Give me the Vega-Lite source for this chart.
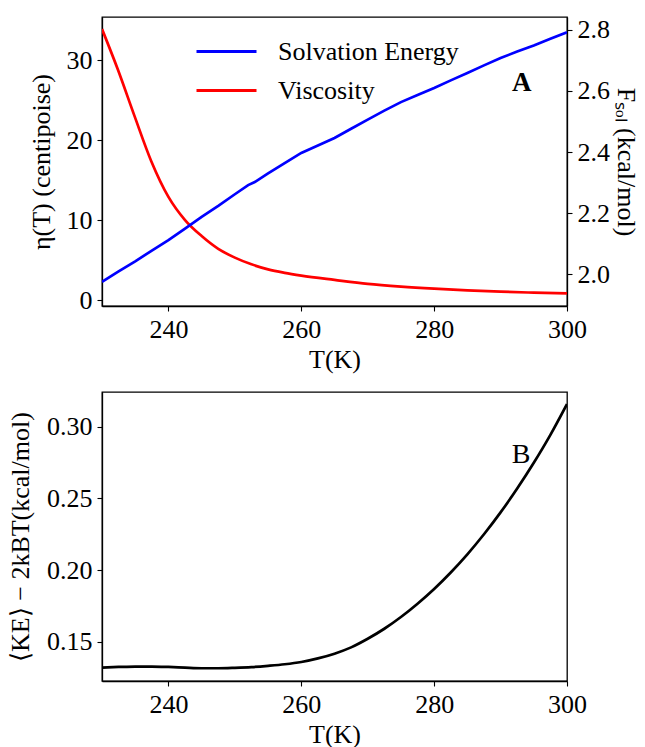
{
  "$schema": "https://vega.github.io/schema/vega-lite/v6.json",
  "background": "white",
  "padding": {"left": 6, "top": 15, "right": 0, "bottom": 0},
  "spacing": 18,
  "datasets": {
    "visc": [
      {"T": 230.0, "eta": 33.9}, {"T": 232.4, "eta": 28.8}, {"T": 234.9, "eta": 23.0},
      {"T": 237.4, "eta": 17.4}, {"T": 240.0, "eta": 12.9}, {"T": 242.5, "eta": 10.0},
      {"T": 245.0, "eta": 8.0}, {"T": 247.5, "eta": 6.4}, {"T": 250.0, "eta": 5.3},
      {"T": 252.5, "eta": 4.46}, {"T": 255.0, "eta": 3.83}, {"T": 257.5, "eta": 3.4},
      {"T": 260.0, "eta": 3.06}, {"T": 265.0, "eta": 2.52}, {"T": 270.0, "eta": 2.02},
      {"T": 275.0, "eta": 1.68}, {"T": 280.0, "eta": 1.42}, {"T": 285.0, "eta": 1.21},
      {"T": 290.0, "eta": 1.04}, {"T": 295.0, "eta": 0.92}, {"T": 300.0, "eta": 0.83}
    ],
    "solv": [
      {"T": 230.0, "F": 1.976}, {"T": 232.5, "F": 2.010}, {"T": 235.0, "F": 2.043},
      {"T": 237.5, "F": 2.078}, {"T": 240.0, "F": 2.112}, {"T": 242.5, "F": 2.150},
      {"T": 245.0, "F": 2.188}, {"T": 247.5, "F": 2.224}, {"T": 250.0, "F": 2.262},
      {"T": 252.0, "F": 2.292}, {"T": 253.0, "F": 2.302}, {"T": 255.0, "F": 2.330},
      {"T": 257.5, "F": 2.364}, {"T": 260.0, "F": 2.397}, {"T": 262.5, "F": 2.421},
      {"T": 265.0, "F": 2.446}, {"T": 267.5, "F": 2.476}, {"T": 270.0, "F": 2.506},
      {"T": 272.5, "F": 2.535}, {"T": 275.0, "F": 2.563}, {"T": 277.5, "F": 2.586},
      {"T": 280.0, "F": 2.609}, {"T": 282.5, "F": 2.634}, {"T": 285.0, "F": 2.658},
      {"T": 287.5, "F": 2.683}, {"T": 290.0, "F": 2.707}, {"T": 292.5, "F": 2.728},
      {"T": 295.0, "F": 2.748}, {"T": 297.5, "F": 2.770}, {"T": 300.0, "F": 2.791}
    ],
    "ke": [
      {"T": 230.0, "v": 0.1319}, {"T": 232.5, "v": 0.1323}, {"T": 235.0, "v": 0.1326},
      {"T": 237.5, "v": 0.1326}, {"T": 240.0, "v": 0.1323}, {"T": 242.5, "v": 0.1318},
      {"T": 245.0, "v": 0.1314}, {"T": 247.5, "v": 0.1314}, {"T": 250.0, "v": 0.1317},
      {"T": 252.5, "v": 0.1322}, {"T": 255.0, "v": 0.1331}, {"T": 257.5, "v": 0.1342},
      {"T": 260.0, "v": 0.1358}, {"T": 262.5, "v": 0.1383}, {"T": 265.0, "v": 0.1416},
      {"T": 267.5, "v": 0.1460}, {"T": 270.0, "v": 0.1520}, {"T": 272.5, "v": 0.1590},
      {"T": 275.0, "v": 0.1672}, {"T": 277.5, "v": 0.1765}, {"T": 280.0, "v": 0.1868},
      {"T": 282.5, "v": 0.1983}, {"T": 285.0, "v": 0.2110}, {"T": 287.5, "v": 0.2250},
      {"T": 290.0, "v": 0.2403}, {"T": 292.5, "v": 0.2570}, {"T": 295.0, "v": 0.2750},
      {"T": 297.5, "v": 0.2945}, {"T": 300.0, "v": 0.3160}
    ],
    "labelA": [{"T": 293.2, "eta": 27.2, "label": "A"}],
    "labelB": [{"T": 293.1, "v": 0.2803, "label": "B"}]
  },
  "vconcat": [
    {
      "width": 465,
      "height": 289,
      "layer": [
        {
          "data": {"name": "visc"},
          "mark": {"type": "line", "strokeWidth": 2.7, "interpolate": "monotone", "clip": true},
          "encoding": {
            "x": {"field": "T", "type": "quantitative", "scale": {"domain": [230, 300], "nice": false, "zero": false},
                  "axis": {"title": "T(K)", "values": [240, 260, 280, 300], "labelFlush": false}},
            "y": {"field": "eta", "type": "quantitative", "scale": {"domain": [-0.75, 35.4], "nice": false, "zero": false},
                  "axis": {"title": "η(T) (centipoise)", "values": [0, 10, 20, 30], "orient": "left", "titlePadding": 12}},
            "color": {"datum": "Viscosity", "type": "nominal",
                      "scale": {"domain": ["Solvation Energy", "Viscosity"], "range": ["#0000ff", "#ff0000"]},
                      "legend": {"orient": "none", "legendX": 108, "legendY": 18, "title": null,
                                 "symbolType": "M-2,0H2", "symbolSize": 900, "symbolStrokeWidth": 3,
                                 "labelFontSize": 26, "labelFont": "Liberation Serif", "labelColor": "black",
                                 "labelLimit": 0, "labelOffset": 35, "rowPadding": 9, "padding": 0}}
          }
        },
        {
          "data": {"name": "solv"},
          "mark": {"type": "line", "strokeWidth": 2.7, "clip": true},
          "encoding": {
            "x": {"field": "T", "type": "quantitative"},
            "y": {"field": "F", "type": "quantitative", "scale": {"domain": [1.897, 2.841], "nice": false, "zero": false},
                  "axis": {"title": "Fₛₒₗ (kcal/mol)", "values": [2.0, 2.2, 2.4, 2.6, 2.8], "format": ".1f", "orient": "right", "titlePadding": 3}},
            "color": {"datum": "Solvation Energy", "type": "nominal"}
          }
        },
        {
          "data": {"name": "labelA"},
          "mark": {"type": "text", "fontSize": 27, "fontWeight": "bold", "font": "Liberation Serif", "color": "black", "align": "center", "baseline": "middle"},
          "encoding": {
            "x": {"field": "T", "type": "quantitative"},
            "y": {"field": "eta", "type": "quantitative", "scale": {"domain": [-0.75, 35.4], "nice": false, "zero": false}, "axis": null},
            "text": {"field": "label"}
          }
        }
      ],
      "resolve": {"scale": {"y": "independent"}, "axis": {"y": "independent"}}
    },
    {
      "width": 465,
      "height": 289,
      "layer": [
        {
          "data": {"name": "ke"},
          "mark": {"type": "line", "strokeWidth": 2.7, "color": "black", "interpolate": "monotone", "clip": true},
          "encoding": {
            "x": {"field": "T", "type": "quantitative", "scale": {"domain": [230, 300], "nice": false, "zero": false},
                  "axis": {"title": "T(K)", "values": [240, 260, 280, 300], "labelFlush": false}},
            "y": {"field": "v", "type": "quantitative", "scale": {"domain": [0.1225, 0.3244], "nice": false, "zero": false},
                  "axis": {"title": "⟨KE⟩ − 2kBT(kcal/mol)", "values": [0.15, 0.2, 0.25, 0.3], "format": ".2f", "titlePadding": 13}}
          }
        },
        {
          "data": {"name": "labelB"},
          "mark": {"type": "text", "fontSize": 28, "font": "Liberation Serif", "color": "black", "align": "center", "baseline": "middle"},
          "encoding": {
            "x": {"field": "T", "type": "quantitative"},
            "y": {"field": "v", "type": "quantitative"},
            "text": {"field": "label"}
          }
        }
      ]
    }
  ],
  "config": {
    "font": "Liberation Serif",
    "view": {"stroke": "black", "strokeWidth": 1.3},
    "axis": {
      "grid": false, "domainColor": "black", "domainWidth": 1.3, "tickColor": "black", "tickWidth": 1.1,
      "tickSize": 5, "labelColor": "black", "titleColor": "black", "labelFontSize": 26, "titleFontSize": 26,
      "titleFontWeight": "normal", "labelPadding": 5, "labelFont": "Liberation Serif", "titleFont": "Liberation Serif",
      "labelFlush": false, "labelOverlap": false
    }
  }
}
